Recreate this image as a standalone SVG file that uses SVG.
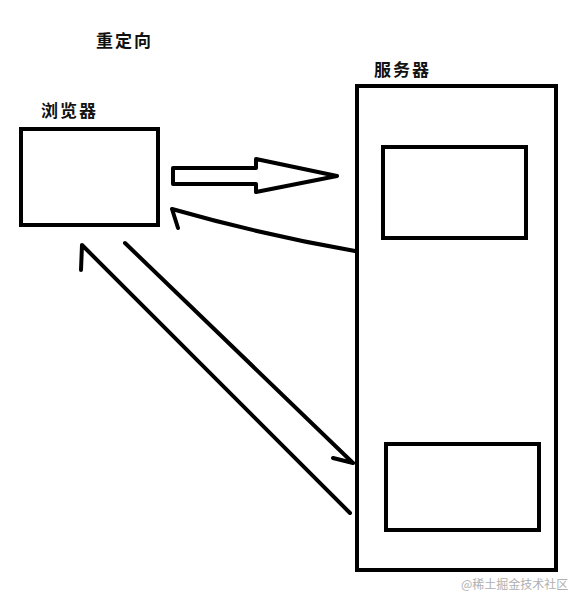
<svg xmlns="http://www.w3.org/2000/svg" width="572" height="595" viewBox="0 0 572 595">
<style>
.box{fill:#fff;stroke:#000;stroke-width:4}
.ln{fill:none;stroke:#000;stroke-width:4;stroke-linecap:round;stroke-linejoin:round}
.lbl{font-family:"Noto Sans CJK SC","Noto Sans",sans-serif;font-size:17px;font-weight:bold;fill:#111;letter-spacing:2px}
.wm{font-family:"Noto Sans CJK SC","Noto Sans",sans-serif;font-size:12px;fill:#b0b0b0}
</style>
<rect width="572" height="595" fill="#fff"/>
<text class="lbl" x="96" y="47">重定向</text>
<g id="browser">
<text class="lbl" x="41" y="117">浏览器</text>
<rect class="box" x="21" y="129" width="137" height="96"/>
</g>
<g id="server">
<text class="lbl" x="374" y="76">服务器</text>
<rect class="box" x="357" y="86" width="199" height="484"/>
<rect id="server-top" class="box" x="383" y="147" width="143" height="91"/>
<rect id="server-bottom" class="box" x="386" y="444" width="153" height="86"/>
</g>
<g id="connectors">
<polygon class="ln" points="173,168 256,168 256,159 337,176 256,192 256,184 173,184"/>
<path class="ln" d="M355,251 Q263,235 172,209 M172,209 L178,228"/>
<path class="ln" d="M125,243 L353,463 M333,458 L353,463"/>
<path class="ln" d="M350,513 L82,245 L81,270"/>
</g>
<text class="wm" x="461" y="589">@稀土掘金技术社区</text>
</svg>
